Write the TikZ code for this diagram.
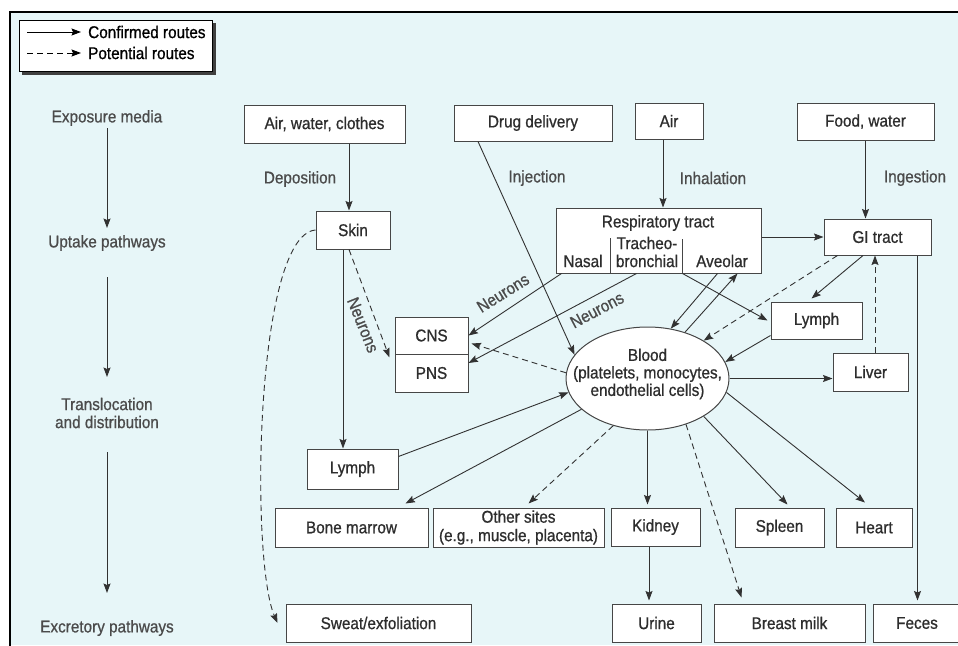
\documentclass[tikz,border=0pt]{standalone}
\usepackage{fontspec}
\setmainfont{Liberation Sans}[FakeStretch=0.9,FakeBold=0.8]
\usetikzlibrary{arrows.meta,calc,shapes.geometric}
\definecolor{bgc}{RGB}{231,246,248}
\definecolor{boxc}{RGB}{70,70,70}
\definecolor{linec}{RGB}{50,50,50}
\definecolor{txtc}{RGB}{45,45,45}
\definecolor{labc}{RGB}{75,75,75}
\begin{document}
\begin{tikzpicture}[x=1pt,y=-1pt,
  font=\fontsize{17}{18}\selectfont,
  box/.style={draw=boxc, fill=white, line width=1pt, inner sep=0pt, text=txtc, align=center},
  lab/.style={inner sep=1pt, text=labc, align=center},
  celltxt/.style={text=txtc, inner sep=0pt, align=center},
  arr/.style={draw=linec, line width=0.9pt, -{Stealth[length=9.5pt,width=7pt,inset=1.5pt]}},
  darr/.style={arr, dash pattern=on 6pt off 4pt},
]
\useasboundingbox (0,0) rectangle (958,645);
\fill[white] (0,0) rectangle (958,645);
\fill[bgc] (10,12) rectangle (958,645);
\draw[line width=2.5pt] (10,646) -- (10,12) -- (959,12);

% legend
\fill[black!75] (22,23) rectangle (215.5,74.5);
\node[draw=black, fill=white, line width=0.8pt, minimum width=193pt, minimum height=51pt, inner sep=0pt] (leg) at (115.5,45.5) {};
\node[anchor=west, inner sep=0pt, text=black] (t1) at (88,32) {Confirmed routes};
\node[anchor=west, inner sep=0pt, text=black] (t2) at (88,53) {Potential routes};
\coordinate (la) at (27,32);
\coordinate (lb) at (27,53);
\draw[arr, draw=black] (la) -- ($(t1.west)+(-7,0)$);
\draw[darr, draw=black] (lb) -- ($(t2.west)+(-7,0)$);

% stage column
\node[lab] (s1) at (107,118) {Exposure media};
\node[lab] (s2) at (107,243) {Uptake pathways};
\node[lab] (s3) at (107,413) {Translocation\\and distribution};
\node[lab] (s4) at (107,628) {Excretory pathways};
\draw[arr, shorten <=10pt, shorten >=15pt] (s1.center) -- (s2.center);
\draw[arr, shorten <=34pt, shorten >=36pt] (s2.center) -- (s3.center);
\draw[arr, shorten <=39pt, shorten >=35pt] (s3.center) -- (s4.center);

% boxes
\node[box, minimum width=161pt, minimum height=38pt] (awc) at (324.5,124) {Air, water, clothes};
\node[box, minimum width=158pt, minimum height=36pt] (drug) at (533,123) {Drug delivery};
\node[box, minimum width=68pt, minimum height=36pt] (air) at (669,121) {Air};
\node[box, minimum width=137pt, minimum height=37pt] (food) at (865.5,121.5) {Food, water};
\node[box, minimum width=74pt, minimum height=38pt] (skin) at (353,230) {Skin};
\node[box, minimum width=205pt, minimum height=65pt] (resp) at (658.5,240.5) {};
\node[box, minimum width=107pt, minimum height=36pt] (gi) at (877.5,237) {GI tract};
\node[box, minimum width=73pt, minimum height=37pt] (cns) at (431.5,335.5) {CNS};
\node[box, minimum width=73pt, minimum height=38pt] (pns) at (431.5,373) {PNS};
\node[draw=boxc, fill=white, line width=1pt, ellipse, minimum width=163pt, minimum height=103pt, inner sep=0pt] (blood) at (647.5,378.5) {};
\node[celltxt, font=\fontsize{17}{17.5}\selectfont] (bloodt) at (647.5,374) {Blood\\(platelets, monocytes,\\endothelial cells)};
\node[box, minimum width=91pt, minimum height=37pt] (lymphR) at (816.5,320.5) {Lymph};
\node[box, minimum width=75pt, minimum height=38pt] (liver) at (870.5,372) {Liver};
\node[box, minimum width=91pt, minimum height=40pt] (lymphL) at (352.5,469) {Lymph};
\node[box, minimum width=153pt, minimum height=39pt] (bone) at (351.5,527.5) {Bone marrow};
\node[box, minimum width=171pt, minimum height=39pt, font=\fontsize{17}{18.5}\selectfont] (other) at (518.5,527.5) {Other sites\\(e.g., muscle, placenta)};
\node[box, minimum width=89pt, minimum height=38pt] (kidney) at (655.5,527) {Kidney};
\node[box, minimum width=89pt, minimum height=39pt] (spleen) at (779.5,527.5) {Spleen};
\node[box, minimum width=76pt, minimum height=39pt] (heart) at (874,527.5) {Heart};
\node[box, minimum width=185pt, minimum height=38pt] (sweat) at (378.5,623) {Sweat/exfoliation};
\node[box, minimum width=89pt, minimum height=38pt] (urine) at (656.5,623) {Urine};
\node[box, minimum width=151pt, minimum height=38pt] (breast) at (789.5,623) {Breast milk};
\node[box, minimum width=88pt, minimum height=38pt] (feces) at (917,623) {Feces};

% respiratory tract cells
\node[celltxt] (rt) at (658,223) {Respiratory tract};
\node[celltxt] (nasal) at (583,261) {Nasal};
\node[celltxt] (trach) at (647,252) {Tracheo-\\bronchial};
\node[celltxt] (aveo) at (722,261) {Aveolar};
\draw[draw=boxc, line width=1pt] ($(resp.south west)+(55,0)$) -- ++(0,-36);
\draw[draw=boxc, line width=1pt] ($(resp.south west)+(127,0)$) -- ++(0,-35);

% route labels
\node[lab] (dep) at (300,179) {Deposition};
\node[lab] (inj) at (537,178) {Injection};
\node[lab] (inh) at (713,178) {Inhalation};
\node[lab] (ing) at (915,178) {Ingestion};
\node[lab, rotate=-68] (n1) at (363,325) {Neurons};
\node[lab, rotate=32] (n2) at (503,293) {Neurons};
\node[lab, rotate=28] (n3) at (597,310) {Neurons};

% connectors
\draw[arr] ($(awc.south -| skin.north)+(-4,0)$) -- ($(skin.north)+(-4,0)$);
\draw[arr] ($(drug.south)+(-55,0)$) -- (blood.162);
\draw[arr] ($(air.south)+(-6,0)$) -- ($(air.south |- resp.north)+(-6,0)$);
\draw[arr] (food.south) -- (food.south |- gi.north);
\draw[arr] (gi.west -| resp.east) -- (gi.west);
\draw[arr] ($(skin.south)+(-10,0)$) -- ($(skin.south |- lymphL.north)+(-10,0)$);
\draw[darr] ($(skin.south)+(-4,0)$) -- ($(pns.north west)+(-5,4)$);
\draw[darr] (skin.west) .. controls (255,235) and (250,560) .. ($(sweat.west)+(-8,0)$);
\draw[arr] ($(resp.south west)+(6,0)$) -- (cns.east);
\draw[arr] ($(resp.south west)+(81,0)$) -- ($(pns.east)+(0,-10)$);
\draw[darr] (blood.176) -- ($(cns.east)+(3,8)$);
\draw[arr] ($(lymphL.north east)+(0,8)$) -- (blood.190);
\draw[arr] (blood.205) -- ($(bone.north)+(54,-4)$);
\draw[darr] (blood.234) -- ($(other.north)+(10,-4)$);
\draw[arr, shorten >=3pt] (blood.south) -- (blood.south |- kidney.north);
\draw[darr] (blood.310) -- ($(breast.north)+(-48,-6)$);
\draw[arr] (blood.326) -- ($(spleen.north)+(8,-3)$);
\draw[arr] (blood.350) -- ($(heart.north)+(-9,-5)$);
\draw[arr] (blood.east) -- (blood.east -| liver.west);
\draw[arr] ($(lymphR.south west)+(0,-4)$) -- (blood.12);
\draw[arr] ($(resp.south east)+(-44,0)$) -- (blood.65);
\draw[arr] (blood.51) -- ($(resp.south east)+(-24,0)$);
\draw[arr] ($(resp.south west)+(127,0)$) -- ($(lymphR.west)+(-3,0)$);
\draw[arr] ($(gi.south)+(-14.5,0)$) -- ($(lymphR.north)+(-5,-3)$);
\draw[darr] ($(gi.south west)+(14,0)$) -- (blood.34);
\draw[darr] ($(liver.north)+(4.5,0)$) -- ($(liver.north |- gi.south)+(4.5,0)$);
\draw[arr, shorten >=3pt] ($(gi.south east)+(-14,0)$) -- ($(gi.south east |- feces.north)+(-14,0)$);
\draw[arr, shorten >=3pt] ($(kidney.south)+(-6.5,0)$) -- ($(kidney.south |- urine.north)+(-6.5,0)$);
\end{tikzpicture}
\end{document}
